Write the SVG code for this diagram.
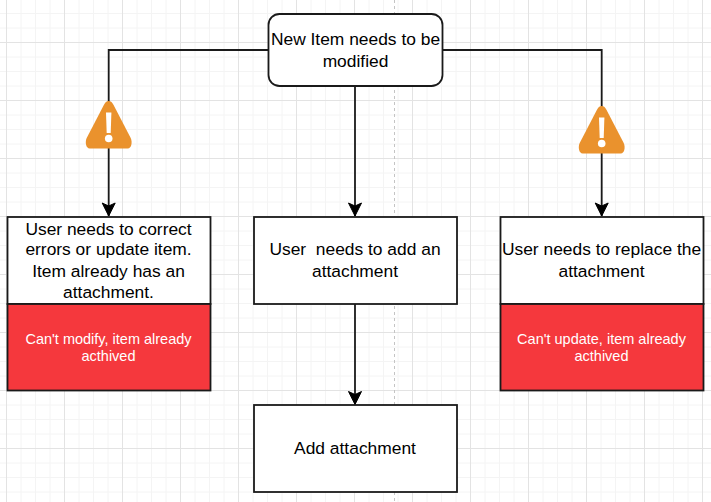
<svg xmlns="http://www.w3.org/2000/svg" width="711" height="502" viewBox="0 0 711 502">
  <style>
    .box { fill: #ffffff; stroke: #1a1a1a; stroke-width: 1.8; }
    .red { fill: #f5383d; stroke: #1a1a1a; stroke-width: 1.8; }
    .link { fill: none; stroke: #1a1a1a; stroke-width: 1.8; }
    .label { font-family: "Liberation Sans", Arial, sans-serif; font-size: 17.4px; fill: #000000; text-anchor: middle; white-space: pre; }
    .note { font-family: "Liberation Sans", Arial, sans-serif; font-size: 14.5px; fill: #ffffff; text-anchor: middle; }
    .warn { fill: #ea922d; }
    .warn-mark { fill: #ffffff; }
  </style>
  <defs>
    <pattern id="grid" patternUnits="userSpaceOnUse" x="6" y="42" width="58" height="58">
      <path d="M15 0V58M29.5 0V58M44 0V58M0 15H58M0 29.5H58M0 44H58" fill="none" stroke="#f4f4f4" stroke-width="1"/>
      <path d="M0.5 0V58M0 0.5H58" fill="none" stroke="#e3e3e3" stroke-width="1"/>
    </pattern>
    <marker id="arrow" markerUnits="userSpaceOnUse" markerWidth="16" markerHeight="16" refX="14" refY="8" orient="auto">
      <path d="M1 1.5L14 8L1 14.5L4 8Z" fill="#000000" stroke="#000000" stroke-width="1"/>
    </marker>
    <g id="warning">
      <path class="warn" d="M0 0C2.2 0 3.6 1.6 5 4.2L22 37C23.8 40.6 23 47.5 19 47.5H-19C-23 47.5 -23.8 40.6 -22 37L-5 4.2C-3.6 1.6 -2.2 0 0 0Z"/>
      <path class="warn-mark" d="M-2.7 11.5H2.7L2 32H-2Z"/>
      <circle class="warn-mark" cx="0" cy="37.5" r="3.8"/>
    </g>
  </defs>

  <rect width="711" height="502" fill="#ffffff"/>
  <rect width="711" height="502" fill="url(#grid)"/>
  <path d="M394.5 0V502" fill="none" stroke="#c4c4c4" stroke-width="1" stroke-dasharray="3 3"/>

  <g id="connectors">
    <path class="link" d="M268.5 50H108.7V216" marker-end="url(#arrow)"/>
    <path class="link" d="M442.5 50H601.7V216" marker-end="url(#arrow)"/>
    <path class="link" d="M355 86V216" marker-end="url(#arrow)"/>
    <path class="link" d="M355 304V404.5" marker-end="url(#arrow)"/>
  </g>

  <g id="start">
    <rect class="box" x="268.5" y="14" width="174" height="72" rx="11" ry="11"/>
    <text class="label" x="355.5" y="45">New Item needs to be</text>
    <text class="label" x="355.5" y="67">modified</text>
  </g>

  <g id="warning-left"><use href="#warning" x="108.7" y="101"/></g>
  <g id="warning-right"><use href="#warning" x="601.7" y="106"/></g>

  <g id="correct-item">
    <rect class="box" x="7.5" y="217" width="203" height="87"/>
    <text class="label" x="108.5" y="235">User needs to correct</text>
    <text class="label" x="108.5" y="255">errors or update item.</text>
    <text class="label" x="108.5" y="277">Item already has an</text>
    <text class="label" x="108.5" y="298">attachment.</text>
  </g>
  <g id="correct-blocked">
    <rect class="red" x="7.5" y="304" width="203" height="86.5"/>
    <text class="note" x="108.5" y="344">Can't modify, item already</text>
    <text class="note" x="108.5" y="361">acthived</text>
  </g>

  <g id="add-needed">
    <rect class="box" x="254" y="217" width="203" height="87"/>
    <text class="label" x="355" y="255">User  needs to add an</text>
    <text class="label" x="355" y="277">attachment</text>
  </g>

  <g id="add-attachment">
    <rect class="box" x="254" y="405" width="203" height="87"/>
    <text class="label" x="355" y="454">Add attachment</text>
  </g>

  <g id="replace-item">
    <rect class="box" x="500.5" y="217" width="203" height="87"/>
    <text class="label" x="601.5" y="255">User needs to replace the</text>
    <text class="label" x="601.5" y="277">attachment</text>
  </g>
  <g id="replace-blocked">
    <rect class="red" x="500.5" y="304" width="203" height="86.5"/>
    <text class="note" x="601.5" y="344">Can't update, item already</text>
    <text class="note" x="601.5" y="361">acthived</text>
  </g>
</svg>
